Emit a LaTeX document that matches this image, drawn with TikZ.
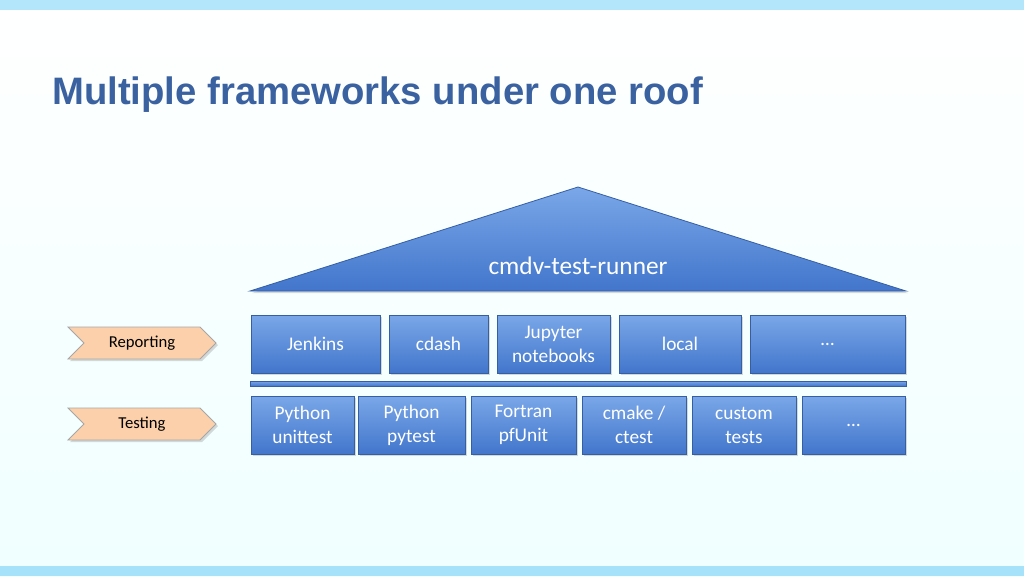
\documentclass[tikz,border=0pt]{standalone}
\usepackage{fontspec}
\setmainfont{Carlito}
\newfontfamily\titlefont{Liberation Sans}
\usetikzlibrary{shapes.symbols,shadows}
\definecolor{boxtop}{HTML}{7AA7E8}
\definecolor{boxbot}{HTML}{4276CC}
\definecolor{titleblue}{HTML}{3B62A0}
\definecolor{peach}{HTML}{FBD0AA}
\tikzset{
  box/.style={draw=boxbot!80!black, line width=0.6pt, top color=boxtop, bottom color=boxbot,
    text=white, font=\fontsize{14.5}{18}\selectfont, align=center, inner sep=0pt,
    drop shadow={shadow xshift=1.5pt,shadow yshift=-1.5pt,opacity=0.3}},
  tag/.style={signal, signal to=east, signal from=west, draw=gray!70, line width=0.6pt, fill=peach,
    font=\fontsize{12.5}{14}\selectfont, minimum width=111pt, minimum height=24pt, inner sep=0pt,
    drop shadow={shadow xshift=1.5pt,shadow yshift=-1.5pt,opacity=0.3}}
}
\begin{document}
\begin{tikzpicture}[x=0.75pt,y=-0.75pt]
\useasboundingbox (0,0) rectangle (1024,576);
\fill[top color=white, bottom color=cyan!6] (0,0) rectangle (1024,576);
\fill[cyan!30] (0,0) rectangle (1024,10);
\fill[cyan!35] (0,566) rectangle (1024,576);
\node[anchor=west, inner sep=0pt, font=\titlefont\bfseries\fontsize{28.7}{32}\selectfont, text=titleblue] (title) at (52,95) {Multiple frameworks under one roof};
% roof
\shade[top color=boxtop, bottom color=boxbot, draw=boxbot!80!black, line width=0.6pt, drop shadow={shadow xshift=1.5pt,shadow yshift=-1.5pt,opacity=0.3}]
  (250,291) -- (578,187) -- (906,291) -- cycle;
\node[text=white, font=\fontsize{19}{22}\selectfont] (runner) at (578,266) {cmdv-test-runner};
% reporting
\newcommand{\bx}[5]{\node[box, minimum width={(#3-#2)*0.75pt}, minimum height={(#5-#4)*0.75pt}] (#1) at ({(#2+#3)/2},{(#4+#5)/2})}
\bx{jenkins}{251}{380}{315}{373} {Jenkins};
\bx{cdash}{389}{488}{315}{373} {cdash};
\bx{jupyter}{497}{610}{315}{373} {Jupyter\\notebooks};
\bx{local}{619}{741}{315}{373} {local};
\bx{rdots}{750}{905}{315}{373} {\dots};
% bar
\shade[top color=boxtop, bottom color=boxbot, draw=boxbot!80!black, line width=0.4pt] (250,381) rectangle (906,386);
% testing
\bx{unittest}{251}{354}{396}{454} {Python\\unittest};
\bx{pytest}{358}{465}{396}{454} {Python\\pytest};
\bx{pfunit}{471}{576}{396}{454} {Fortran\\pfUnit};
\bx{ctest}{582}{686}{396}{454} {cmake /\\ctest};
\bx{custom}{692}{796}{396}{454} {custom\\tests};
\bx{tdots}{802}{905}{396}{454} {\dots};
% tags
\node[tag] (reporting) at (142,343) {Reporting};
\node[tag] (testing) at (142,424) {Testing};
\end{tikzpicture}
\end{document}
